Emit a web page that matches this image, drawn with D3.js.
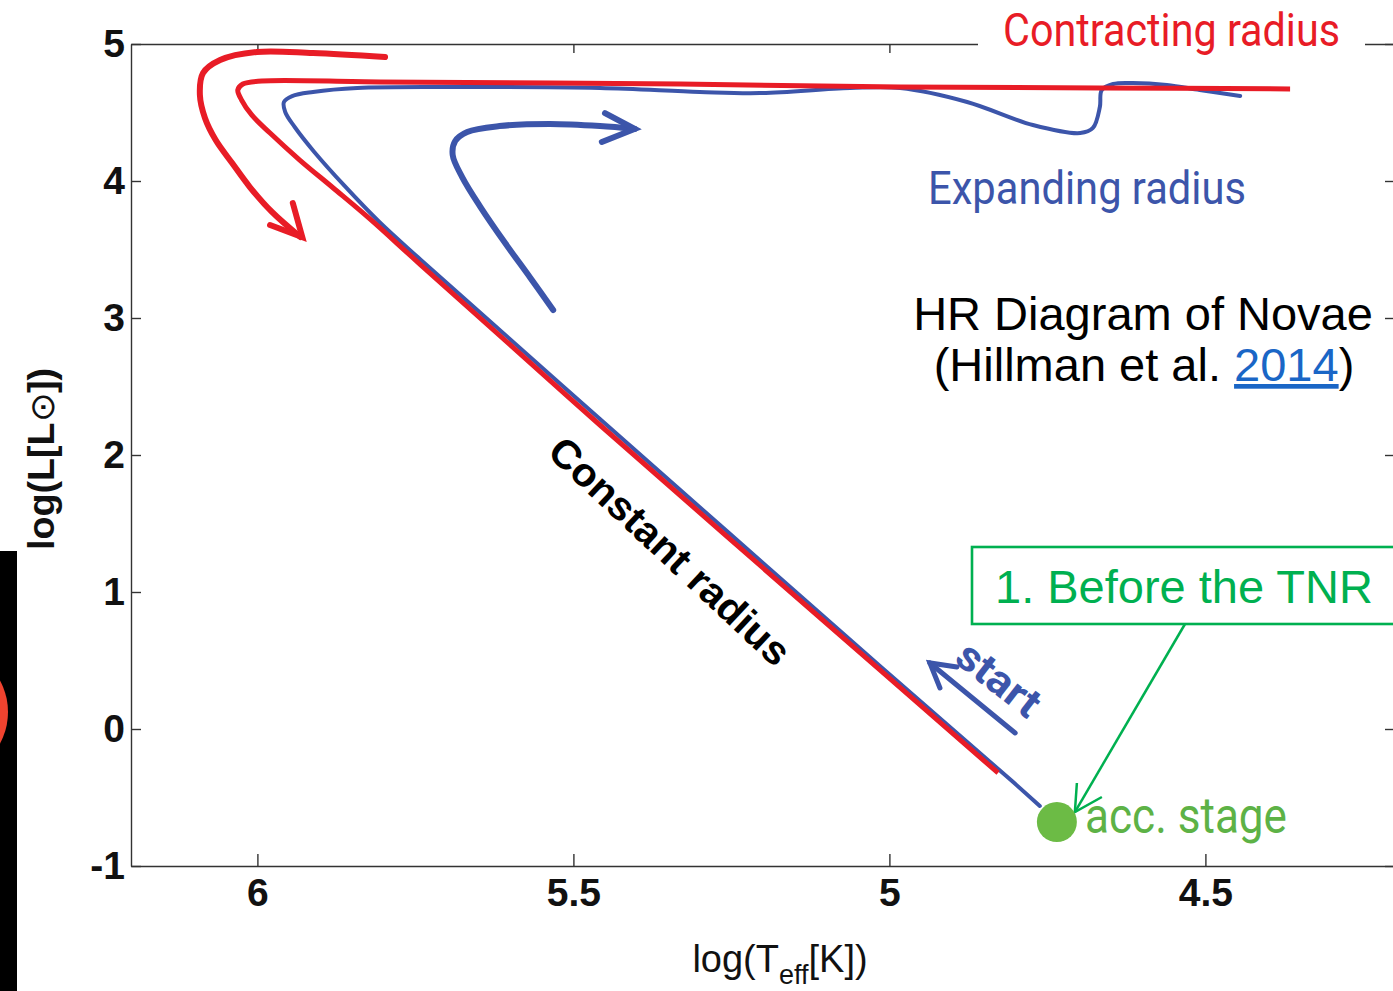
<!DOCTYPE html>
<html>
<head>
<meta charset="utf-8">
<script src="https://cdn.jsdelivr.net/npm/d3@7"></script>
<style>
  body { margin: 0; background: #fff; }
  svg { display: block; }
</style>
</head>
<body>
<svg id="chart" width="1393" height="991"></svg>
<script>
// ---- data: log(Teff [K]) vs log(L [Lsun]) ----
const xTicks = [6, 5.5, 5, 4.5];
const xTickLabels = ["6", "5.5", "5", "4.5"];
const yTicks = [-1, 0, 1, 2, 3, 4, 5];
const yTickLabels = ["-1", "0", "1", "2", "3", "4", "5"];

// contracting-radius track (red)
const redTrack = [
  [4.828, -0.321], [5.015, 0.431], [5.458, 2.219], [5.743, 3.394],
  [5.822, 3.723], [5.880, 3.949], [5.933, 4.153], [5.980, 4.350],
  [6.009, 4.482], [6.025, 4.591], [6.031, 4.664], [6.023, 4.708],
  [5.993, 4.730], [5.806, 4.723], [5.331, 4.708], [4.983, 4.686],
  [4.667, 4.679], [4.366, 4.672]
];

// expanding-radius track (blue)
const blueTrack = [
  [4.762, -0.562], [4.806, -0.380], [5.015, 0.460], [5.458, 2.263],
  [5.743, 3.431], [5.807, 3.701], [5.862, 3.964], [5.910, 4.212],
  [5.941, 4.394], [5.956, 4.504], [5.958, 4.577], [5.945, 4.620],
  [5.912, 4.650], [5.842, 4.679], [5.700, 4.686], [5.458, 4.679],
  [5.300, 4.650], [5.205, 4.642], [5.062, 4.679], [4.983, 4.679],
  [4.877, 4.577], [4.773, 4.409], [4.698, 4.350], [4.678, 4.387],
  [4.667, 4.540], [4.664, 4.664], [4.646, 4.708], [4.615, 4.715],
  [4.561, 4.701], [4.509, 4.664], [4.445, 4.620]
];

// accretion stage point
const accStage = [4.735, -0.679];

// hand-drawn direction arrows
const redArrow = [
  [5.798, 4.905], [5.912, 4.934], [6.001, 4.942], [6.059, 4.883],
  [6.086, 4.788], [6.091, 4.628], [6.083, 4.460], [6.066, 4.299],
  [6.040, 4.131], [6.012, 3.956], [5.977, 3.774], [5.932, 3.591]
];
const redArrowHead = [[5.980, 3.679], [5.929, 3.591], [5.944, 3.839]];

const blueArrow = [
  [5.532, 3.058], [5.568, 3.292], [5.608, 3.547], [5.647, 3.810],
  [5.676, 4.029], [5.691, 4.190], [5.687, 4.292], [5.668, 4.358],
  [5.617, 4.401], [5.537, 4.416], [5.458, 4.401], [5.403, 4.380]
];
const blueArrowHead = [[5.450, 4.496], [5.403, 4.380], [5.455, 4.285]];

const startArrow = [[4.801, -0.029], [4.936, 0.482]];
const startArrowHead = [[4.893, 0.453], [4.936, 0.482], [4.920, 0.299]];

// ---- drawing ----
const RED = "#e81c26";
const BLUE = "#3c55aa";
const GREEN = "#00b050";
const AXIS = "#333";

const svg = d3.select("#chart");
const x = d3.scaleLinear().domain([6.2, 4.2]).range([131, 1395]);
const y = d3.scaleLinear().domain([-1, 5]).range([866, 44]);

// slide strip on the left edge
svg.append("rect").attr("x", 0).attr("y", 551).attr("width", 17).attr("height", 440).attr("fill", "#000");
svg.append("circle").attr("cx", -58).attr("cy", 712).attr("r", 66).attr("fill", "#f0432f");

// axes (ticks point inward)
const tickFont = g => g.selectAll("text")
  .attr("font-family", "'Liberation Sans', Arial, sans-serif")
  .attr("font-size", 39).attr("font-weight", "bold").attr("fill", "#111");

const bottom = svg.append("g").attr("transform", `translate(0,${y(-1)})`)
  .call(d3.axisBottom(x).tickValues(xTicks).tickFormat((d, i) => xTickLabels[i])
    .tickSizeInner(-12).tickSizeOuter(0).tickPadding(12));
bottom.call(tickFont);

const left = svg.append("g").attr("transform", `translate(${x(6.2)},0)`)
  .call(d3.axisLeft(y).tickValues(yTicks).tickFormat((d, i) => yTickLabels[i])
    .tickSizeInner(-10).tickSizeOuter(0).tickPadding(6));
left.call(tickFont);

svg.append("g").attr("transform", `translate(0,${y(5)})`)
  .call(d3.axisTop(x).tickValues(xTicks).tickFormat("").tickSizeInner(-9).tickSizeOuter(0));
svg.append("g").attr("transform", `translate(${x(4.2)},0)`)
  .call(d3.axisRight(y).tickValues(yTicks).tickFormat("").tickSizeInner(-10).tickSizeOuter(0));

svg.selectAll(".domain, .tick line").attr("stroke", AXIS).attr("stroke-width", 1.4);

// axis titles
const yLab = svg.append("text")
  .attr("transform", `translate(54,459) rotate(-90)`)
  .attr("text-anchor", "middle")
  .attr("font-family", "'Liberation Sans', Arial, sans-serif")
  .attr("font-size", 36).attr("font-weight", "bold").attr("fill", "#111")
  .attr("textLength", 182).attr("lengthAdjust", "spacingAndGlyphs");
yLab.append("tspan").text("log(L[L");
yLab.append("tspan").attr("font-size", 34).attr("font-weight", "normal").text("\u2299");
yLab.append("tspan").text("])");

const xLab = svg.append("text")
  .attr("x", 780).attr("y", 972)
  .attr("text-anchor", "middle")
  .attr("font-family", "'Liberation Sans', Arial, sans-serif")
  .attr("font-size", 38).attr("fill", "#111");
xLab.append("tspan").text("log(T");
xLab.append("tspan").attr("font-size", 27).attr("dy", 12).text("eff");
xLab.append("tspan").attr("dy", -12).text("[K])");

// tracks
const line = d3.line().x(d => x(d[0])).y(d => y(d[1])).curve(d3.curveCatmullRom.alpha(0.5));
const straight = d3.line().x(d => x(d[0])).y(d => y(d[1]));

svg.append("path").datum(blueTrack).attr("d", line)
  .attr("fill", "none").attr("stroke", BLUE).attr("stroke-width", 4)
  .attr("stroke-linejoin", "round").attr("stroke-linecap", "round");
svg.append("path").datum(redTrack).attr("d", line)
  .attr("fill", "none").attr("stroke", RED).attr("stroke-width", 5)
  .attr("stroke-linejoin", "round").attr("stroke-linecap", "butt");

// direction arrows
function arrow(pts, head, color, w) {
  svg.append("path").datum(pts).attr("d", line)
    .attr("fill", "none").attr("stroke", color).attr("stroke-width", w)
    .attr("stroke-linecap", "round");
  svg.append("path").datum(head).attr("d", straight)
    .attr("fill", "none").attr("stroke", color).attr("stroke-width", w)
    .attr("stroke-linecap", "round").attr("stroke-linejoin", "miter");
}
arrow(redArrow, redArrowHead, RED, 6);
arrow(blueArrow, blueArrowHead, BLUE, 6);
arrow(startArrow, startArrowHead, BLUE, 5);

// labels on the diagram
const condensed = "Roboto, 'Open Sans', sans-serif";

svg.append("rect").attr("x", 978).attr("y", 30).attr("width", 387).attr("height", 28).attr("fill", "#fff");
svg.append("text").attr("x", 1003).attr("y", 46)
  .attr("font-family", condensed).attr("font-size", 46).attr("fill", RED)
  .attr("textLength", 337).attr("lengthAdjust", "spacingAndGlyphs")
  .text("Contracting radius");

svg.append("text").attr("x", 928).attr("y", 204)
  .attr("font-family", condensed).attr("font-size", 46).attr("fill", BLUE)
  .attr("textLength", 318).attr("lengthAdjust", "spacingAndGlyphs")
  .text("Expanding radius");

svg.append("text")
  .attr("transform", "translate(670,551) rotate(43)")
  .attr("text-anchor", "middle").attr("dominant-baseline", "central")
  .attr("font-family", "'Liberation Sans', Arial, sans-serif")
  .attr("font-size", 40).attr("font-weight", "bold").attr("fill", "#000")
  .attr("textLength", 314).attr("lengthAdjust", "spacingAndGlyphs")
  .text("Constant radius");

svg.append("text")
  .attr("transform", "translate(999,679) rotate(38)")
  .attr("text-anchor", "middle").attr("dominant-baseline", "central")
  .attr("font-family", condensed)
  .attr("font-size", 42).attr("font-weight", "bold").attr("fill", BLUE)
  .attr("textLength", 95).attr("lengthAdjust", "spacingAndGlyphs")
  .text("start");

// title
const title = svg.append("text")
  .attr("text-anchor", "middle")
  .attr("font-family", "'Liberation Sans', Arial, sans-serif")
  .attr("font-size", 47).attr("fill", "#000");
title.append("tspan").attr("x", 1143).attr("y", 330).text("HR Diagram of Novae");
const t2 = title.append("tspan").attr("x", 1144).attr("y", 381);
t2.append("tspan").text("(Hillman et al. ");
t2.append("tspan").attr("fill", "#1a66c6").attr("text-decoration", "underline").text("2014");
t2.append("tspan").text(")");

// accretion stage marker and callout
const ax = x(accStage[0]), ay = y(accStage[1]);

svg.append("rect").attr("x", 972).attr("y", 547).attr("width", 440).attr("height", 77)
  .attr("fill", "#fff").attr("stroke", GREEN).attr("stroke-width", 2.6);
svg.append("text").attr("x", 995).attr("y", 603)
  .attr("font-family", "'Liberation Sans', Arial, sans-serif")
  .attr("font-size", 47).attr("fill", GREEN)
  .text("1. Before the TNR");

const tipX = ax + 18, tipY = ay - 10;
svg.append("line").attr("x1", 1185).attr("y1", 624).attr("x2", tipX).attr("y2", tipY)
  .attr("stroke", GREEN).attr("stroke-width", 2.5);
svg.append("polyline")
  .attr("points", `${tipX + 2},${tipY - 29} ${tipX},${tipY} ${tipX + 27},${tipY - 15}`)
  .attr("fill", "none").attr("stroke", GREEN).attr("stroke-width", 2.5);

svg.append("circle").attr("cx", ax).attr("cy", ay).attr("r", 20).attr("fill", "#6cbb45");

svg.append("text").attr("x", 1085).attr("y", 833)
  .attr("font-family", condensed).attr("font-size", 50).attr("fill", "#5db246")
  .attr("textLength", 202).attr("lengthAdjust", "spacingAndGlyphs")
  .text("acc. stage");
</script>
</body>
</html>
